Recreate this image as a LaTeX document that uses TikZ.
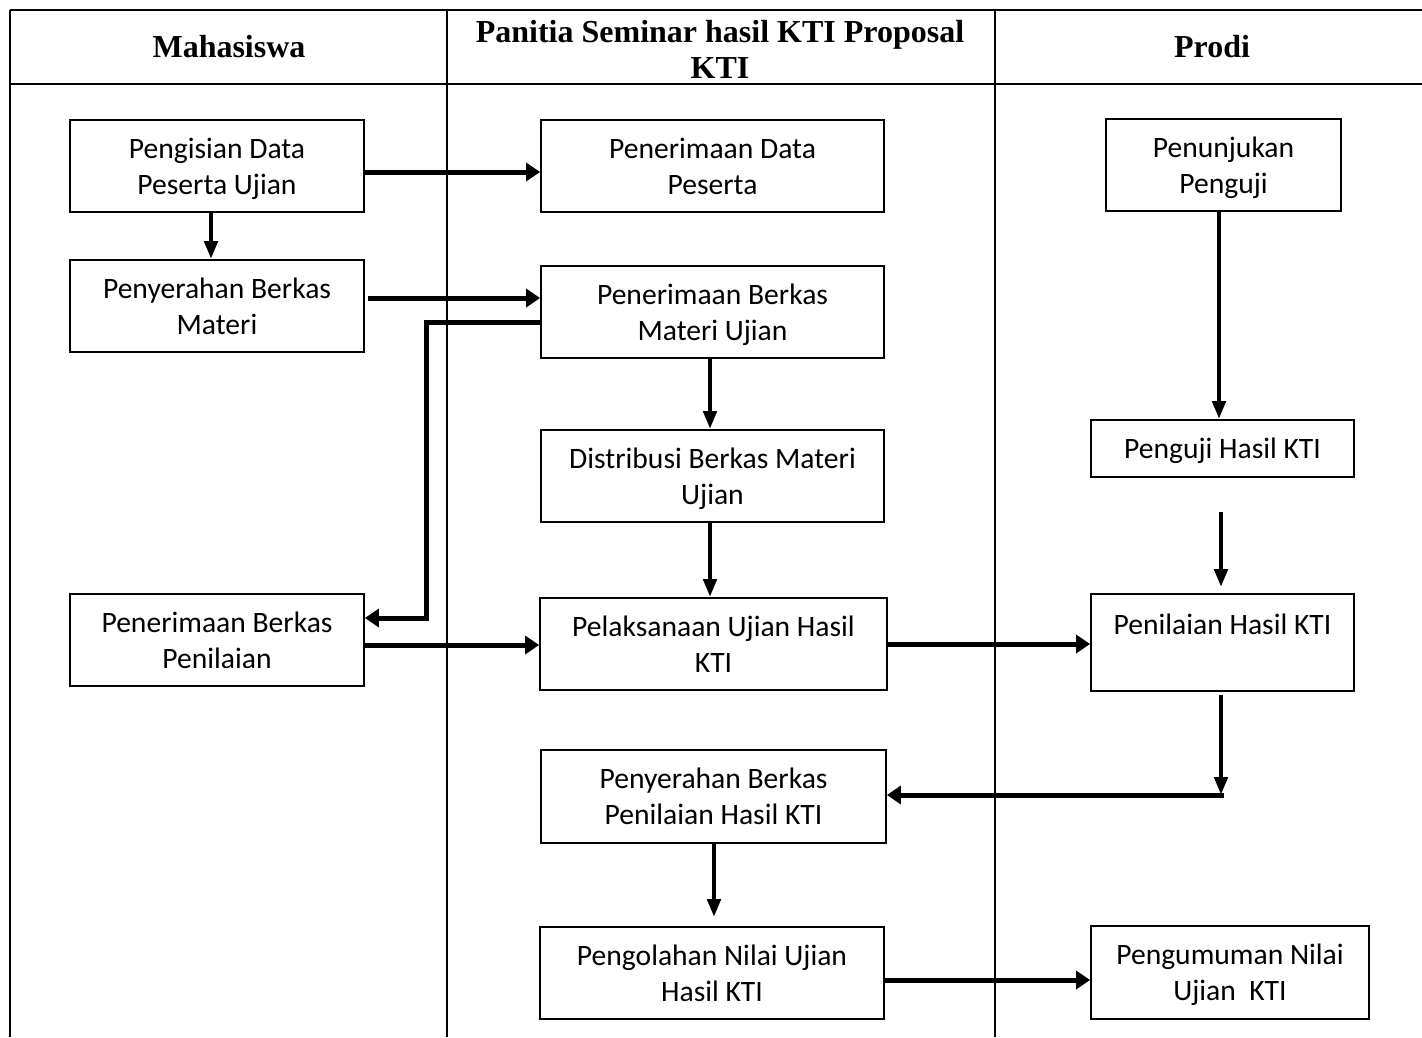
\documentclass[tikz,border=0pt]{standalone}
\usepackage{fontspec}
\setmainfont{Carlito}
\newfontfamily\hdrfont{Liberation Serif}
\usetikzlibrary{arrows.meta}
\tikzset{
  box/.style={draw, line width=1.8pt, fill=white, inner sep=0pt, align=center,
    text depth=0pt, font=\fontsize{29.6}{36}\selectfont},
  hdr/.style={inner sep=0pt, align=center, font=\hdrfont\bfseries\fontsize{32}{36}\selectfont},
  tbl/.style={line width=1.8pt},
  col/.style={line width=1.5pt},
  harr/.style={line width=5pt, -{Triangle[length=14pt,width=18pt]}},
  varr/.style={line width=4.5pt, -{Triangle[length=18pt,width=13pt]}},
  plain/.style={line width=5pt}
}
\begin{document}
\begin{tikzpicture}[x=1pt, y=-1pt]
\useasboundingbox[fill=white] (0,0) rectangle (1422,1037);
% table
\draw[tbl] (10,10) -- (1422,10);
\draw[tbl] (10,84) -- (1422,84);
\draw[col] (10,10) -- (10,1037);
\draw[col] (447,10) -- (447,1037);
\draw[col] (995,10) -- (995,1037);
% headers
\node[hdr] (h1) at (229,47) {Mahasiswa};
\node[hdr] (h2) at (720,49) {Panitia Seminar hasil KTI Proposal\\KTI};
\node[hdr] (h3) at (1212,47) {Prodi};
% boxes
\node[box, minimum width=294pt, minimum height=92pt] (n1) at (217,166) {Pengisian Data\\Peserta Ujian};
\node[box, minimum width=343pt, minimum height=92pt] (n2) at (712.5,166) {Penerimaan Data\\Peserta};
\node[box, minimum width=235pt, minimum height=92pt] (n3) at (1223.5,165) {Penunjukan\\Penguji};
\node[box, minimum width=294pt, minimum height=92pt] (n4) at (217,306) {Penyerahan Berkas\\Materi};
\node[box, minimum width=343pt, minimum height=92pt] (n5) at (712.5,312) {Penerimaan Berkas\\Materi Ujian};
\node[box, minimum width=343pt, minimum height=92pt] (n6) at (712.5,476) {Distribusi Berkas Materi\\Ujian};
\node[box, minimum width=263pt, minimum height=57pt] (n7) at (1222.5,448.5) {Penguji Hasil KTI};
\node[box, minimum width=294pt, minimum height=92pt] (n8) at (217,640) {Penerimaan Berkas\\Penilaian};
\node[box, minimum width=347pt, minimum height=92pt] (n9) at (713.5,644) {Pelaksanaan Ujian Hasil\\KTI};
\node[box, minimum width=263pt, minimum height=97pt] (n10) at (1222.5,642.5) {Penilaian Hasil KTI\\\mbox{}};
\node[box, minimum width=345pt, minimum height=93pt] (n11) at (713.5,796.5) {Penyerahan Berkas\\Penilaian Hasil KTI};
\node[box, minimum width=344pt, minimum height=92pt] (n12) at (712,973) {Pengolahan Nilai Ujian\\Hasil KTI};
\node[box, minimum width=278pt, minimum height=93pt] (n13) at (1230,972.5) {Pengumuman Nilai\\Ujian\ \ KTI};
% coordinates
\coordinate (c1) at (426,618);
\coordinate (s1) at (1221,512);
\coordinate (c2) at (1221,795);
% connectors
\draw[harr] ([yshift=-6pt]n1.east) -- ([yshift=-6pt]n2.west);
\draw[varr] ([xshift=-6pt]n1.south) -- ([xshift=-6pt]n4.north);
\draw[harr] ([xshift=3pt,yshift=8pt]n4.east) -- ([yshift=14pt]n5.west);
\draw[harr] ([yshift=-10pt]n5.west) -| (c1) -- ([yshift=22pt]n8.east);
\draw[varr] ([xshift=-2.5pt]n5.south) -- ([xshift=-2.5pt]n6.north);
\draw[varr] ([xshift=-2.5pt]n6.south) -- ([xshift=-3.5pt]n9.north);
\draw[harr] ([yshift=-5pt]n8.east) -- ([yshift=-1pt]n9.west);
\draw[harr] (n9.east) -- ([yshift=-1.5pt]n10.west);
\draw[varr] ([xshift=-4.5pt]n3.south) -- ([xshift=-3.5pt]n7.north);
\draw[varr] (s1) -- ([xshift=-1.5pt,yshift=6pt]n10.north);
\draw[varr] ([xshift=-1.5pt,yshift=-3pt]n10.south) -- (c2);
\draw[harr] ([xshift=2.5pt]c2) -- (n11.east |- c2);
\draw[varr] ([xshift=0.5pt]n11.south) -- ([xshift=2pt,yshift=9pt]n12.north);
\draw[harr] ([yshift=-7pt]n12.east) -- ([yshift=-7.5pt]n13.west);
\end{tikzpicture}
\end{document}
